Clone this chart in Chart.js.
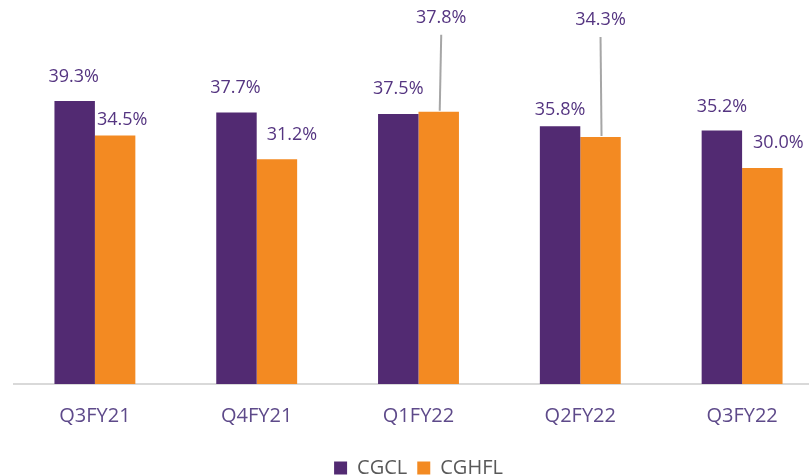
<!DOCTYPE html>
<html>
<head>
<meta charset="utf-8">
<script src="https://cdn.jsdelivr.net/npm/chart.js@4.4.1/dist/chart.umd.min.js"></script>
<style>
  html, body { margin: 0; padding: 0; background: #fff; overflow: hidden; }
  #wrap { width: 809px; height: 476px; overflow: hidden; }
  canvas { display: block; }
</style>
</head>
<body>
<div id="wrap"><canvas id="chart" width="824" height="488"></canvas></div>
<script>
const categories = ["Q3FY21", "Q4FY21", "Q1FY22", "Q2FY22", "Q3FY22"];
const cgclValues = [39.3, 37.7, 37.5, 35.8, 35.2];
const cghflValues = [34.5, 31.2, 37.8, 34.3, 30.0];

// label nudges [dx, dy above bar top] and which labels get a leader line
const cgclNudge = [[-1, 24], [-1, 25], [0, 25], [0, 16], [0, 24]];
const cghflNudge = [[7, 16], [15, 24], [2.5, 94], [0, 117], [16, 25]];
const cghflLeader = [false, false, true, true, false];

const FONT = '"Open Sans", "Noto Sans", sans-serif';

const valueLabels = {
  id: "valueLabels",
  afterDatasetsDraw(chart) {
    const ctx = chart.ctx;
    ctx.save();
    ctx.font = `18px ${FONT}`;
    ctx.textAlign = "center";
    ctx.textBaseline = "middle";
    chart.data.datasets.forEach((ds, i) => {
      const meta = chart.getDatasetMeta(i);
      meta.data.forEach((bar, j) => {
        const [dx, dy] = ds.nudge[j];
        const lx = bar.x + dx;
        const ly = bar.y - dy;
        if (ds.leader && ds.leader[j]) {
          ctx.strokeStyle = "#a6a6a6";
          ctx.lineWidth = 2;
          ctx.beginPath();
          ctx.moveTo(lx, ly + 17);
          ctx.lineTo(bar.x + 1, bar.y - 1);
          ctx.stroke();
        }
        ctx.fillStyle = "#553581";
        ctx.fillText(ds.data[j].toFixed(1) + "%", lx, ly);
      });
    });
    ctx.restore();
  },
};

new Chart(document.getElementById("chart"), {
  type: "bar",
  data: {
    labels: categories,
    datasets: [
      { label: "CGCL", data: cgclValues, backgroundColor: "#522a72", nudge: cgclNudge },
      { label: "CGHFL", data: cghflValues, backgroundColor: "#f38a22", nudge: cghflNudge, leader: cghflLeader },
    ],
  },
  options: {
    responsive: false,
    animation: false,
    layout: { padding: { left: 14, right: 1, top: 24, bottom: 0 } },
    datasets: { bar: { categoryPercentage: 0.5, barPercentage: 1 } },
    scales: {
      x: {
        grid: { display: false, drawTicks: false },
        border: { color: "#d9d9d9", width: 2 },
        ticks: { color: "#5e4a8a", font: { family: FONT, size: 20 }, padding: 20 },
      },
      y: { display: false, min: 0, max: 50 },
    },
    plugins: {
      tooltip: { enabled: false },
      legend: {
        position: "bottom",
        labels: {
          color: "#595959",
          font: { family: FONT, size: 20 },
          boxWidth: 13,
          boxHeight: 13,
          padding: 10,
        },
      },
    },
  },
  plugins: [valueLabels],
});
</script>
</body>
</html>
